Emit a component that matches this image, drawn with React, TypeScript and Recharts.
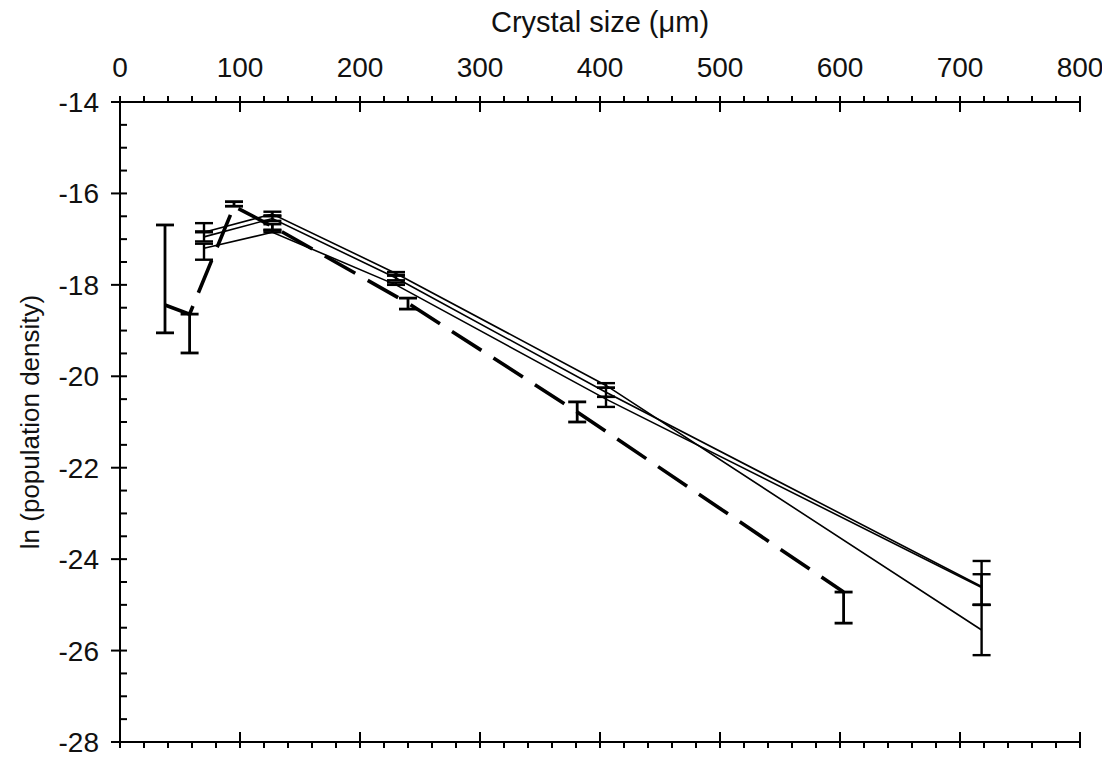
import React from "react";
import { ComposedChart, Line, XAxis, YAxis, ErrorBar } from "recharts";

// crystal size (µm) ticks, labelled every 100
const sizeTicks = [
  0, 20, 40, 60, 80, 100, 120, 140, 160, 180, 200, 220, 240, 260, 280, 300, 320, 340, 360, 380, 400,
  420, 440, 460, 480, 500, 520, 540, 560, 580, 600, 620, 640, 660, 680, 700, 720, 740, 760, 780, 800,
];
// ln(population density) ticks, labelled every 2
const lnTicks = [
  -28, -27.5, -27, -26.5, -26, -25.5, -25, -24.5, -24, -23.5, -23, -22.5, -22, -21.5, -21, -20.5, -20,
  -19.5, -19, -18.5, -18, -17.5, -17, -16.5, -16, -15.5, -15, -14.5, -14,
];

// dashed (thick) run
const dashedSize = [37.5, 58, 95, 127, 240, 381, 603];
const dashedLn = [-18.44, -18.64, -16.28, -16.72, -18.4, -20.78, -24.72];
const dashedErr = [[0.61, 1.75], [0.85, 0], [0, 0.1], [0.08, 0.05], [0.13, 0.11], [0.22, 0.22], [0.68, 0]];

// three thin runs share the same size bins
const runSize = [70, 127, 230, 405, 718];
const runALn = [-16.85, -16.45, -17.75, -20.2, -25.55];
const runAErr = [[0, 0.2], [0.03, 0.05], [0.03, 0.03], [0.05, 0.05], [0.55, 0.55]];
const runBLn = [-16.95, -16.55, -17.85, -20.35, -24.6];
const runBErr = [[0.1, 0.12], [0.05, 0.05], [0.05, 0.05], [0.1, 0.1], [0.4, 0.27]];
const runCLn = [-17.2, -16.85, -18.0, -20.5, -24.62];
const runCErr = [[0.25, 0.1], [0, 0.05], [0, 0.05], [0.17, 0.05], [0.38, 0.58]];

const rows = (sizes: number[], ln: number[], err: number[][]) =>
  sizes.map((s, i) => ({ size: s, ln: ln[i], err: err[i] }));

const dashedData = rows(dashedSize, dashedLn, dashedErr);
const runAData = rows(runSize, runALn, runAErr);
const runBData = rows(runSize, runBLn, runBErr);
const runCData = rows(runSize, runCLn, runCErr);

const FONT = "'Liberation Sans', Arial, Helvetica, sans-serif";
const INK = "#111";
const TICK_FONT = 28;

function TopTick({ x, y, payload }: any) {
  const major = payload.value % 100 === 0;
  return (
    <g>
      <line x1={x} x2={x} y1={y - 6} y2={major ? y + 10 : y} stroke="#000" strokeWidth={2} />
      {major && (
        <text x={x} y={y - 25} textAnchor="middle" fontSize={TICK_FONT} fontFamily={FONT} fill={INK}>
          {payload.value}
        </text>
      )}
    </g>
  );
}

function BottomTick({ x, y, payload }: any) {
  const major = payload.value % 100 === 0;
  return <line x1={x} x2={x} y1={major ? y - 10 : y} y2={y + 6} stroke="#000" strokeWidth={2} />;
}

function LeftTick({ x, y, payload }: any) {
  const major = payload.value % 2 === 0;
  return (
    <g>
      <line x1={major ? x - 9 : x} x2={x + 7} y1={y} y2={y} stroke="#000" strokeWidth={2} />
      {major && (
        <text x={x - 21} y={y + 10} textAnchor="end" fontSize={TICK_FONT} fontFamily={FONT} fill={INK}>
          {payload.value}
        </text>
      )}
    </g>
  );
}

function RightTick({ x, y, payload }: any) {
  const major = payload.value % 2 === 0;
  return <line x1={x - 7} x2={major ? x + 9 : x} y1={y} y2={y} stroke="#000" strokeWidth={2} />;
}

const axisLine = { stroke: "#000", strokeWidth: 2 };

export default function App() {
  return (
    <div style={{ position: "relative", width: 1100, height: 752, fontFamily: FONT, color: INK }}>
      <div
        style={{
          position: "absolute",
          left: 112,
          width: 960,
          top: -2,
          textAlign: "center",
          fontSize: 29,
          lineHeight: "32px",
        }}
      >
        Crystal size (μm)
      </div>
      <div
        style={{
          position: "absolute",
          left: 22,
          top: 414,
          fontSize: 26,
          whiteSpace: "nowrap",
          transform: "translate(-50%, -50%) rotate(-90deg)",
        }}
      >
        ln (population density)
      </div>
      <ComposedChart width={1100} height={752} margin={{ top: 0, right: 28, bottom: 0, left: 0 }}>
        <XAxis
          dataKey="size"
          type="number"
          orientation="top"
          domain={[0, 800]}
          ticks={sizeTicks}
          interval={0}
          height={94}
          tickSize={0}
          tickMargin={0}
          tickLine={false}
          axisLine={axisLine}
          tick={TopTick}
          allowDataOverflow
        />
        <XAxis
          xAxisId="b"
          dataKey="size"
          type="number"
          orientation="bottom"
          domain={[0, 800]}
          ticks={sizeTicks}
          interval={0}
          height={18}
          tickSize={0}
          tickMargin={0}
          tickLine={false}
          axisLine={axisLine}
          tick={BottomTick}
          allowDataOverflow
        />
        <YAxis
          type="number"
          domain={[-28, -14]}
          ticks={lnTicks}
          interval={0}
          width={112}
          tickSize={0}
          tickMargin={0}
          tickLine={false}
          axisLine={axisLine}
          tick={LeftTick}
          allowDataOverflow
        />
        <YAxis
          yAxisId="r"
          orientation="right"
          type="number"
          domain={[-28, -14]}
          ticks={lnTicks}
          interval={0}
          width={0}
          tickSize={0}
          tickMargin={0}
          tickLine={false}
          axisLine={axisLine}
          tick={RightTick}
          allowDataOverflow
        />
        <Line data={runAData} dataKey="ln" stroke="#000" strokeWidth={1.6} dot={false} isAnimationActive={false}>
          <ErrorBar dataKey="err" direction="y" width={9} stroke="#000" strokeWidth={2.4} isAnimationActive={false} />
        </Line>
        <Line data={runBData} dataKey="ln" stroke="#000" strokeWidth={1.6} dot={false} isAnimationActive={false}>
          <ErrorBar dataKey="err" direction="y" width={9} stroke="#000" strokeWidth={2.4} isAnimationActive={false} />
        </Line>
        <Line data={runCData} dataKey="ln" stroke="#000" strokeWidth={1.6} dot={false} isAnimationActive={false}>
          <ErrorBar dataKey="err" direction="y" width={9} stroke="#000" strokeWidth={2.4} isAnimationActive={false} />
        </Line>
        <Line
          data={dashedData}
          dataKey="ln"
          stroke="#000"
          strokeWidth={3.6}
          strokeDasharray="35 14.3"
          dot={false}
          isAnimationActive={false}
        >
          <ErrorBar dataKey="err" direction="y" width={9} stroke="#000" strokeWidth={2.8} isAnimationActive={false} />
        </Line>
      </ComposedChart>
    </div>
  );
}
